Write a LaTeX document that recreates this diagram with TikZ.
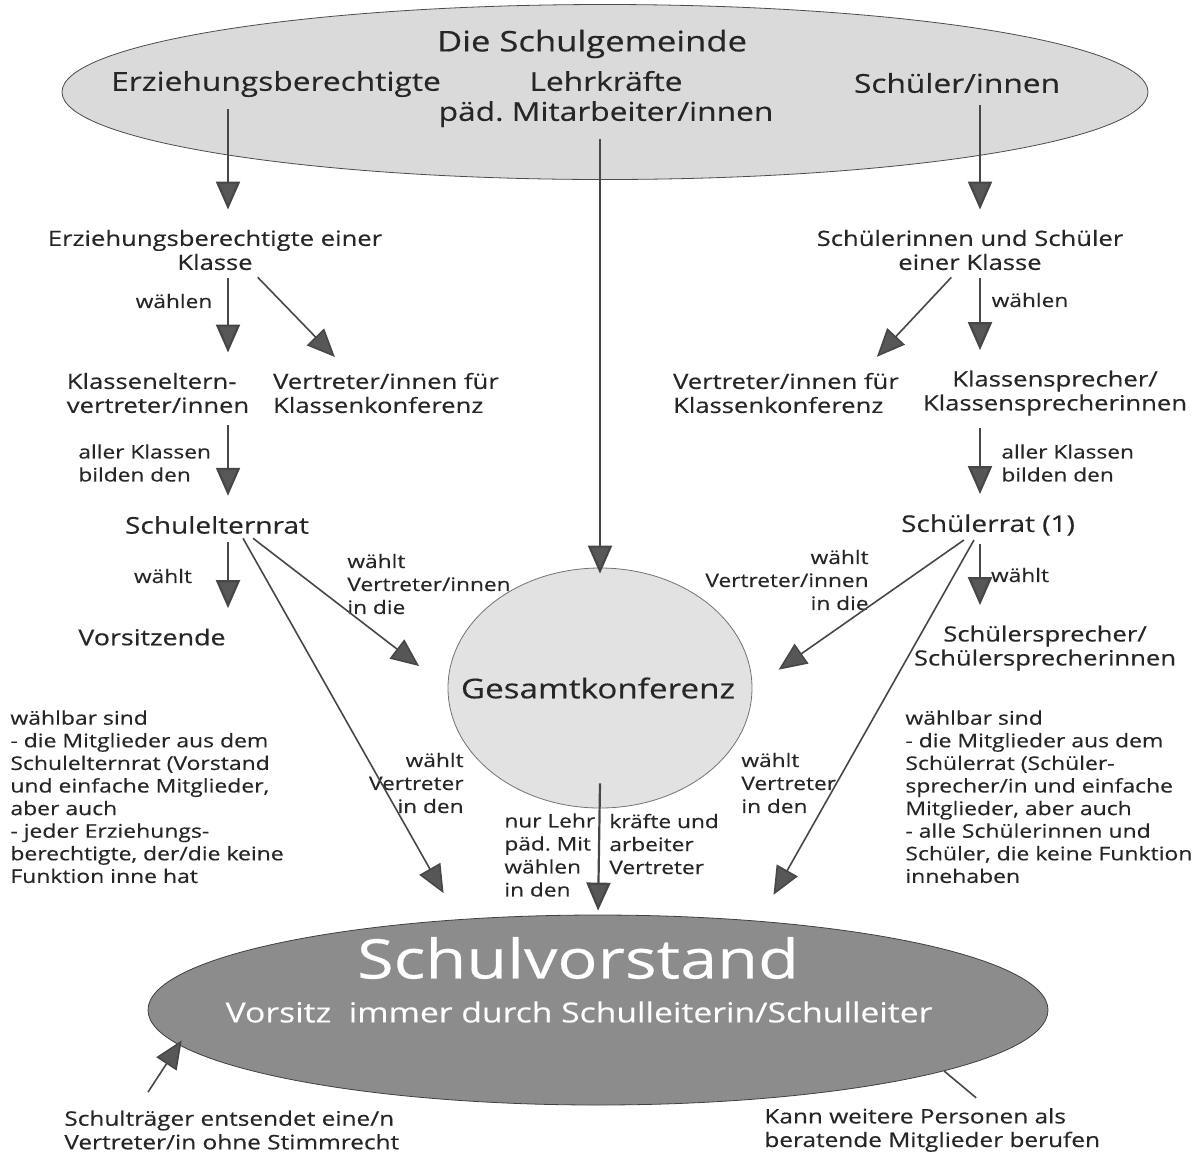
\documentclass[tikz,border=0pt]{standalone}
\usepackage{fontspec}
\setmainfont{Open Sans}[FakeStretch=1.22, FakeBold=0.35]
\usetikzlibrary{arrows.meta, shapes.geometric, positioning}
\definecolor{linegray}{HTML}{474747}
\definecolor{headgray}{HTML}{575757}
\definecolor{lightfill}{HTML}{DADADA}
\definecolor{circfill}{HTML}{E2E2E2}
\definecolor{darkfill}{HTML}{8C8C8C}
\tikzset{
  arr/.style={-{Triangle[length=14pt,width=12pt,fill=headgray]}, draw=linegray, line width=1.1pt},
  thin/.style={line width=0.8pt},
  txt/.style={font=\fontsize{10.5}{12}\selectfont, align=center, inner sep=2pt, text=black!85},
  lab/.style={txt, font=\fontsize{9.3}{11.5}\selectfont},
  note/.style={txt, font=\fontsize{9.4}{11.3}\selectfont, align=left, anchor=north west},
  big/.style={font=\fontsize{13}{15}\selectfont, inner sep=2pt, text=black!85},
}

\begin{document}
\begin{tikzpicture}[x=0.5pt, y=-0.5pt]
    \useasboundingbox (0,0) rectangle (1194,1158);
    \coordinate (colL) at (228,0);
    \coordinate (colR) at (980,0);

    % Schulgemeinde
    \node[ellipse, draw=black!70, fill=lightfill, minimum width=543pt, minimum height=87.5pt] (gemeinde) at (605,92) {};
    \node[big, font=\fontsize{14.2}{15}\selectfont] (titel) at (592,44) {Die Schulgemeinde};
    \node[big] (erz) at (276,84) {Erziehungsberechtigte};
    \node[big, align=center] (lehr) at (606,99) {Lehrkräfte\\päd.\ Mitarbeiter/innen};
    \node[big] (sch) at (957,83) {Schüler/innen};

    % left side
    \node[txt] (erzKl) at (215,250) {Erziehungsberechtigte einer\\Klasse};
    \node[txt, align=left] (kev) at (158,393) {Klasseneltern-\\vertreter/innen};
    \node[txt, align=left] (kkL) at (386,393) {Vertreter/innen für\\Klassenkonferenz};
    \node[txt, font=\fontsize{11.5}{13}\selectfont] (ser) at (217,525) {Schulelternrat};
    \node[txt, font=\fontsize{11}{13}\selectfont] (vors) at (152,637) {Vorsitzende};

    % right side
    \node[txt] (schKl) at (970,250) {Schülerinnen und Schüler\\einer Klasse};
    \node[txt, align=left] (kkR) at (786,393) {Vertreter/innen für\\Klassenkonferenz};
    \node[txt] (ksp) at (1055,393) {Klassensprecher/\\Klassensprecherinnen};
    \node[txt, font=\fontsize{11.5}{13}\selectfont] (sr) at (988,525) {Schülerrat (1)};
    \node[txt] (ssp) at (1045,648) {Schülersprecher/\\Schülersprecherinnen};

    % Gesamtkonferenz and Schulvorstand
    \node[ellipse, draw=black!55, fill=circfill, minimum width=152pt, minimum height=120pt, inner sep=0pt] (gk) at (600,688) {};
    \node[big, font=\fontsize{13.6}{15}\selectfont] (gkT) at (598,688) {Gesamtkonferenz};
    \node[ellipse, draw=black!75, fill=darkfill, minimum width=450pt, minimum height=95pt] (sv) at (598,1010) {};
    \node[text=white, font=\fontsize{27.3}{30}\selectfont, inner sep=0pt] (svT) at (578,958) {Schulvorstand};
    \node[text=white, font=\fontsize{13.8}{15}\selectfont, inner sep=0pt] (svV) at (579,1012) {Vorsitz\ \ immer durch Schulleiterin/Schulleiter};

    % notes
    \node[note] (wbL) at (6,706) {wählbar sind\\- die Mitglieder aus dem\\Schulelternrat (Vorstand\\und einfache Mitglieder,\\aber auch\\- jeder Erziehungs-\\berechtigte, der/die keine\\Funktion inne hat};
    \node[note] (wbR) at (901,706) {wählbar sind\\- die Mitglieder aus dem\\Schülerrat (Schüler-\\sprecher/in und einfache\\Mitglieder, aber auch\\- alle Schülerinnen und\\Schüler, die keine Funktion\\innehaben};
    \node[txt, font=\fontsize{10}{11.8}\selectfont, align=left, anchor=west] (traeger) at (60,1130) {Schulträger entsendet eine/n\\Vertreter/in ohne Stimmrecht};
    \node[txt, font=\fontsize{10}{11.8}\selectfont, align=left, anchor=west] (berat) at (760,1130) {Kann weitere Personen als\\beratende Mitglieder berufen};

    % arrow labels
    \node[lab] at (174,301) {wählen};
    \node[lab, align=left, anchor=west] at (74,463) {aller Klassen\\bilden den};
    \node[lab] at (163,576) {wählt};
    \node[lab, align=left, anchor=west] at (343,584) {wählt\\Vertreter/innen\\in die};
    \node[lab, align=right, anchor=east] at (468,783) {wählt\\Vertreter\\in den};
    \node[lab, align=left, anchor=west] at (500,855) {nur Lehr\\päd.\ Mit\\wählen\\in den};
    \node[lab, align=left, anchor=west] at (605,844) {kräfte und\\arbeiter\\Vertreter};
    \node[lab] at (1030,300) {wählen};
    \node[lab, align=left, anchor=west] at (997,463) {aller Klassen\\bilden den};
    \node[lab] at (1020,575) {wählt};
    \node[lab, align=right, anchor=east] at (873,580) {wählt\\Vertreter/innen\\in die};
    \node[lab, align=left, anchor=west] at (737,783) {wählt\\Vertreter\\in den};

    % connectors
    \draw[arr, shorten <=4pt, shorten >=8pt] (erz.south -| colL) -- (erzKl.north -| colL);
    \draw[arr, shorten <=4pt, shorten >=8pt] (sch.south -| colR) -- (schKl.north -| colR);
    \draw[arr, shorten <=4pt] (lehr.south -| gk.north) -- ([yshift=-3pt]gk.north);
    \draw[arr, shorten <=2pt, shorten >=8pt] (erzKl.south -| colL) -- (kev.north -| colL);
    \draw[arr, thin, shorten <=2pt, shorten >=8pt] ([xshift=20pt]erzKl.south) -- ([xshift=-20pt]kkL.north);
    \draw[arr, shorten <=2pt, shorten >=8pt] (schKl.south -| colR) -- (ksp.north -| colR);
    \draw[arr, thin, shorten <=2pt, shorten >=8pt] ([xshift=-8pt]schKl.south) -- ([xshift=40pt]kkR.north);
    \draw[arr, shorten <=4pt, shorten >=8pt] (kev.south -| colL) -- (ser.north -| colL);
    \draw[arr, shorten <=4pt, shorten >=8pt] (ksp.south -| colR) -- (sr.north -| colR);
    \draw[arr, shorten <=2pt, shorten >=8pt] (ser.south -| colL) -- (vors.north -| colL);
    \draw[arr, shorten <=2pt, shorten >=8pt] (sr.south -| colR) -- (ssp.north -| colR);
    \draw[arr, thin, shorten >=18pt] ([xshift=18pt]ser.south) -- (gk.west);
    \draw[arr, thin, shorten >=16pt] ([xshift=-12pt]sr.south) -- (gk.east);
    \draw[arr, thin, shorten >=15pt] ([xshift=13pt]ser.south) -- (sv.147);
    \draw[arr, thin, shorten >=15pt] ([xshift=-7pt]sr.south) -- (sv.29);
    \draw[arr, shorten >=2pt] ([yshift=12.5pt]gk.south) -- (sv.north);
    \draw[arr, thin] ([xshift=44pt, yshift=7pt]traeger.north west) -- ([yshift=3pt]sv.185.5);
    \draw[linegray, thin] (sv.-10) -- ([xshift=22pt, yshift=3pt]berat.north);
\end{tikzpicture}
\end{document}
